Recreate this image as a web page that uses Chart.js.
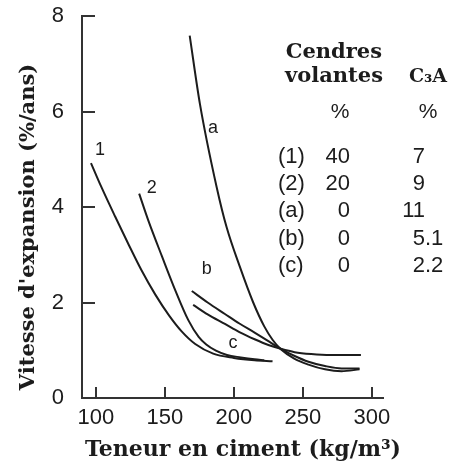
<html>
<head>
<script src="https://cdn.jsdelivr.net/npm/chart.js"></script>
<style>
  body { margin: 0; background: #fff; }
</style>
</head>
<body>
<canvas id="chart-1" width="453" height="473"></canvas>
<script>
  // curves (cement content kg/m3 -> expansion %/yr)
  const curve1X = [96.5, 104, 114, 124, 133, 143, 153, 162, 172, 185, 200, 215, 228];
  const curve1Y = [4.92, 4.42, 3.8, 3.2, 2.68, 2.17, 1.73, 1.4, 1.13, 0.93, 0.84, 0.79, 0.77];

  const curve2X = [131.4, 138, 148, 157.5, 167, 174.5, 180, 187, 195, 205, 215, 222];
  const curve2Y = [4.28, 3.72, 2.96, 2.26, 1.63, 1.28, 1.12, 0.99, 0.9, 0.85, 0.81, 0.79];

  const curveAX = [168, 175.4, 187.5, 194.7, 204.3, 214, 222, 228, 234, 244, 254, 266, 278, 291];
  const curveAY = [7.59, 6.16, 4.42, 3.58, 2.75, 2.0, 1.5, 1.22, 1.02, 0.82, 0.7, 0.6, 0.56, 0.6];

  const curveBX = [169.5, 181, 193.5, 204, 215, 225, 234, 244, 254, 266, 278, 291];
  const curveBY = [2.24, 2.0, 1.76, 1.56, 1.37, 1.19, 1.03, 0.88, 0.76, 0.67, 0.62, 0.62];

  const curveCX = [170.5, 181, 193.5, 204, 215, 225, 234, 244, 256, 270, 292];
  const curveCY = [1.95, 1.75, 1.55, 1.38, 1.23, 1.11, 1.03, 0.96, 0.92, 0.9, 0.9];

  const xTicks = [100, 150, 200, 250, 300];
  const yTicks = [0, 2, 4, 6, 8];

  // legend table
  const rowNames = ['(1)', '(2)', '(a)', '(b)', '(c)'];
  const flyAsh = ['40', '20', '0', '0', '0'];
  const c3a = ['7', '9', '11', '5.1', '2.2'];

  const curveNames = ['1', '2', 'a', 'b', 'c'];
  // where each curve name sits, in data units
  const nameAt = [[103, 5.2], [140.6, 4.4], [184.8, 5.65], [180.4, 2.7], [199.3, 1.15]];

  const ink = '#1c1c1c';
  const sans = '"Liberation Sans", Arial, sans-serif';
  const serif = '"DejaVu Serif", serif';

  function pts(xs, ys) {
    return xs.map((x, i) => ({ x: x, y: ys[i] }));
  }

  function curve(xs, ys) {
    return {
      data: pts(xs, ys),
      borderColor: ink,
      borderWidth: 2,
      pointRadius: 0,
      fill: false,
      cubicInterpolationMode: 'monotone'
    };
  }

  const textPlugin = {
    id: 'texts',
    afterDraw(chart) {
      const ctx = chart.ctx;
      const xs = chart.scales.x, ys = chart.scales.y;
      ctx.save();
      ctx.fillStyle = ink;

      // axis titles
      ctx.font = 'bold 22px ' + serif;
      ctx.textAlign = 'center';
      ctx.textBaseline = 'middle';
      ctx.fillText('Teneur en ciment (kg/m\u00b3)', 243, 450);

      ctx.save();
      ctx.translate(29, 227);
      ctx.rotate(-Math.PI / 2);
      ctx.font = 'bold 21px ' + serif;
      ctx.fillText("Vitesse d'expansion (%/ans)", 0, 0);
      ctx.restore();

      // curve names
      ctx.font = '18px ' + sans;
      curveNames.forEach((n, i) => {
        ctx.fillText(n, xs.getPixelForValue(nameAt[i][0]), ys.getPixelForValue(nameAt[i][1]));
      });

      // table header
      ctx.textBaseline = 'alphabetic';
      ctx.font = 'bold 21px ' + serif;
      ctx.textAlign = 'right';
      ctx.fillText('Cendres', 382, 58);
      ctx.fillText('volantes', 383, 82);
      ctx.textAlign = 'center';
      ctx.font = 'bold 19px ' + serif;
      ctx.fillText('C\u2083A', 428, 82);
      ctx.font = '21px ' + sans;
      ctx.fillText('%', 340, 118);
      ctx.fillText('%', 428, 118);

      // table rows
      ctx.font = '22px ' + sans;
      rowNames.forEach((r, i) => {
        const y = 163 + i * 27.2;
        ctx.textAlign = 'left';
        ctx.fillText(r, 278, y);
        ctx.textAlign = 'right';
        ctx.fillText(flyAsh[i], 350, y);
        const parts = c3a[i].split('.');
        ctx.fillText(parts[0], 425, y);
        if (parts.length > 1) {
          ctx.textAlign = 'left';
          ctx.fillText('.' + parts[1], 425, y);
        }
      });
      ctx.restore();
    }
  };

  const config = {
    type: 'line',
    data: {
      datasets: [
        curve(curve1X, curve1Y),
        curve(curve2X, curve2Y),
        curve(curveAX, curveAY),
        curve(curveBX, curveBY),
        curve(curveCX, curveCY)
      ]
    },
    options: {
      responsive: false,
      animation: false,
      layout: { padding: { top: 16, right: 70, left: 0, bottom: 0 } },
      scales: {
        x: {
          type: 'linear',
          min: 90,
          max: 308,
          afterBuildTicks: s => { s.ticks = xTicks.map(v => ({ value: v })); },
          afterFit: s => { s.height = 75; },
          grid: { drawOnChartArea: false, drawTicks: true, tickLength: -11, color: '#333', lineWidth: 2 },
          border: { display: true, color: '#333', width: 2 },
          ticks: { color: ink, padding: 18, font: { family: sans, size: 22 }, maxRotation: 0 }
        },
        y: {
          type: 'linear',
          min: 0,
          max: 8,
          afterBuildTicks: s => { s.ticks = yTicks.map(v => ({ value: v })); },
          // the big label padding would otherwise push the top of the plot down
          afterFit: s => { s.width = 82; s.paddingTop = 8; s.paddingBottom = 8; },
          grid: { drawOnChartArea: false, drawTicks: true, tickLength: -13, color: '#333', lineWidth: 2 },
          border: { display: true, color: '#333', width: 2 },
          ticks: { color: ink, padding: 31, font: { family: sans, size: 22 } }
        }
      },
      plugins: {
        legend: { display: false },
        tooltip: { enabled: false }
      }
    },
    plugins: [textPlugin]
  };

  const chart = new Chart(document.getElementById('chart-1'), config);
</script>
</body>
</html>
